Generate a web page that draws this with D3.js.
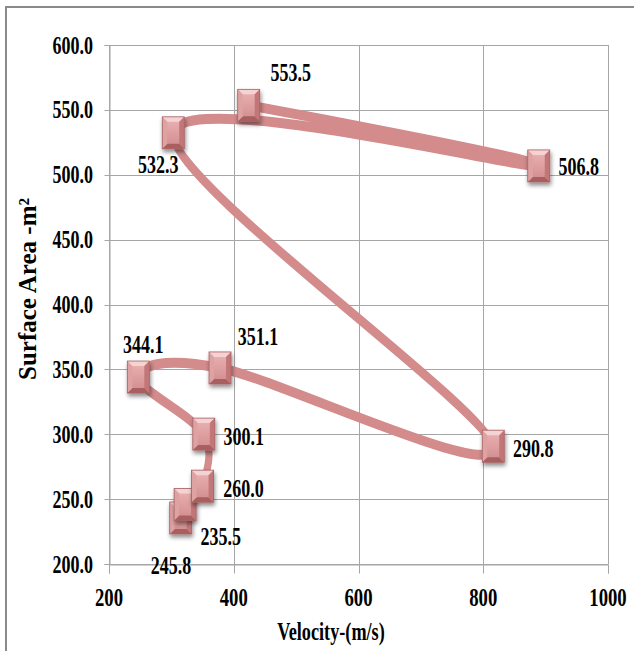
<!DOCTYPE html>
<html>
<head>
<meta charset="utf-8">
<script src="https://cdn.jsdelivr.net/npm/d3@7"></script>
<style>
  html, body { margin: 0; padding: 0; background: #ffffff; }
  svg { display: block; }
  text { font-family: "Liberation Serif", "Times New Roman", serif; font-weight: bold; fill: #000; }
</style>
</head>
<body>
<svg id="chart" width="634" height="651"></svg>
<script>
// Surface area against velocity, in the order the series was recorded
const velocity    = [315, 322, 350, 352, 247, 378, 816, 303, 889, 424];
const surfaceArea = [235.5, 245.8, 260.0, 300.1, 344.1, 351.1, 290.8, 532.3, 506.8, 553.5];

const xTicks = [200, 400, 600, 800, 1000];
const yTicks = [200, 250, 300, 350, 400, 450, 500, 550, 600];

const xTitle = "Velocity-(m/s)";
const yTitle = "Surface Area -m²";

const points = velocity.map((v, i) => ({ v, a: surfaceArea[i] }));

// where each value label sits relative to its marker (dx, dy of label centre)
const labelOffset = [
  [40, 19], [-14, 61], [41, 2], [40, 2], [5, -33],
  [38, -31], [40, 2], [-15, 32], [40, 1], [42, -33]
];

const svg = d3.select("#chart");
const plot = { left: 109, right: 608, top: 45, bottom: 564 };

const x = d3.scaleLinear().domain([200, 1000]).range([plot.left, plot.right]);
const y = d3.scaleLinear().domain([200, 600]).range([plot.bottom, plot.top]);

// the whole drawing is narrowed horizontally; lettering and the line share it
const SX = 0.72;
const xWide = d3.scaleLinear().domain(x.domain()).range(x.range().map(r => r / SX));

// outer frame
svg.append("path")
  .attr("d", "M6,651 L6,7 L634,7")
  .attr("fill", "none").attr("stroke", "#8a8a8a").attr("stroke-width", 2);

const defs = svg.append("defs");
const shadow = defs.append("filter").attr("id", "mshadow")
  .attr("x", "-50%").attr("y", "-50%").attr("width", "200%").attr("height", "200%");
shadow.append("feDropShadow").attr("dx", 1).attr("dy", 3).attr("stdDeviation", 2)
  .attr("flood-color", "#000").attr("flood-opacity", 0.45);
const face = defs.append("linearGradient").attr("id", "mface")
  .attr("x1", 0).attr("y1", 0).attr("x2", 0).attr("y2", 1);
face.append("stop").attr("offset", "0%").attr("stop-color", "#ecb4b5");
face.append("stop").attr("offset", "100%").attr("stop-color", "#d08a8c");

// gridlines
const grid = svg.append("g").attr("stroke", "#a6a6a6").attr("stroke-width", 1);
yTicks.forEach(t => {
  grid.append("line").attr("x1", plot.left).attr("x2", plot.right)
    .attr("y1", Math.round(y(t)) + 0.5).attr("y2", Math.round(y(t)) + 0.5);
});
xTicks.forEach(t => {
  grid.append("line").attr("y1", plot.top).attr("y2", plot.bottom)
    .attr("x1", Math.round(x(t)) + 0.5).attr("x2", Math.round(x(t)) + 0.5);
});

// axes with outside ticks
const xAxis = svg.append("g").attr("transform", `translate(0,${Math.round(plot.bottom) + 0.5})`)
  .call(d3.axisBottom(x).tickValues(xTicks).tickSize(9).tickFormat(""));
const yAxis = svg.append("g").attr("transform", `translate(${Math.round(plot.left) + 0.5},0)`)
  .call(d3.axisLeft(y).tickValues(yTicks).tickSize(5).tickFormat(""));
[xAxis, yAxis].forEach(g => {
  g.select(".domain").attr("stroke", "#a6a6a6");
  g.selectAll(".tick line").attr("stroke", "#a6a6a6");
});
xAxis.selectAll(".tick").attr("transform", d => `translate(${Math.round(x(d)) + 0.5},0)`);
yAxis.selectAll(".tick").attr("transform", d => `translate(0,${Math.round(y(d)) + 0.5})`);

// tick labels
svg.append("g").selectAll("text").data(yTicks).join("text")
  .attr("transform", d => `translate(93,${y(d) + 8.5}) scale(${SX},1)`)
  .attr("text-anchor", "end").attr("font-size", 25)
  .text(d => d.toFixed(1));
svg.append("g").selectAll("text").data(xTicks).join("text")
  .attr("transform", d => `translate(${x(d)},606) scale(${SX},1)`)
  .attr("text-anchor", "middle").attr("font-size", 26)
  .text(d => d);

// axis titles
svg.append("text")
  .attr("transform", `translate(331,640) scale(0.70,1)`)
  .attr("text-anchor", "middle").attr("font-size", 26)
  .text(xTitle);
svg.append("text")
  .attr("transform", `translate(36,289) rotate(-90)`)
  .attr("text-anchor", "middle").attr("font-size", 25)
  .text(yTitle);

// smoothed connecting line, drawn wide and then narrowed with the rest
const line = d3.line().x(d => xWide(d.v)).y(d => y(d.a)).curve(d3.curveCardinal.tension(0));
svg.append("g").attr("transform", `scale(${SX},1)`)
  .append("path").datum(points)
  .attr("d", line)
  .attr("fill", "none").attr("stroke", "#d38b8c").attr("stroke-width", 10)
  .attr("stroke-linejoin", "round").attr("stroke-linecap", "round");

// bevelled square markers
const MW = 22, MH = 32, B = 5;
const markers = svg.append("g").selectAll("g").data(points).join("g")
  .attr("transform", d => `translate(${x(d.v) - MW / 2},${y(d.a) - MH / 2})`)
  .attr("filter", "url(#mshadow)");
markers.append("rect").attr("width", MW).attr("height", MH).attr("fill", "url(#mface)");
const facets = [
  { p: [[0, 0], [MW, 0], [MW - B, B], [B, B]], c: "#f6d3d3" },
  { p: [[0, MH], [MW, MH], [MW - B, MH - B], [B, MH - B]], c: "#a95f61" },
  { p: [[0, 0], [B, B], [B, MH - B], [0, MH]], c: "#dfa2a3" },
  { p: [[MW, 0], [MW - B, B], [MW - B, MH - B], [MW, MH]], c: "#c37678" }
];
facets.forEach(f => {
  markers.append("path").attr("d", "M" + f.p.map(q => q.join(",")).join("L") + "Z")
    .attr("fill", f.c);
});
markers.append("rect").attr("width", MW).attr("height", MH)
  .attr("fill", "none").attr("stroke", "#a66062").attr("stroke-width", 0.8);

// value labels
svg.append("g").selectAll("text").data(points).join("text")
  .attr("transform", (d, i) =>
    `translate(${x(d.v) + labelOffset[i][0]},${y(d.a) + labelOffset[i][1] + 8.5}) scale(${SX},1)`)
  .attr("text-anchor", "middle").attr("font-size", 25)
  .text(d => d.a.toFixed(1));
</script>
</body>
</html>
